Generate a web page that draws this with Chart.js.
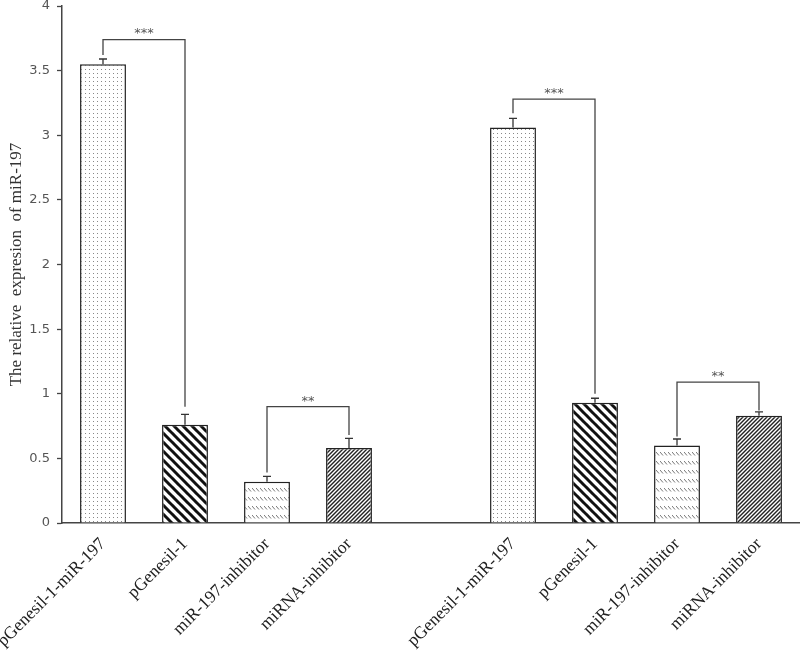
<!DOCTYPE html>
<html lang="en">
<head>
<meta charset="UTF-8">
<title>miR-197 expression</title>
<script src="https://cdn.jsdelivr.net/npm/chart.js"></script>
<style>
  html, body { margin: 0; padding: 0; background: #fff; }
  #wrap { width: 800px; height: 650px; }
</style>
</head>
<body>
<div id="wrap"><canvas id="chart"></canvas></div>
<script>
// categories (the empty one is the gap between the two groups)
const categories = ['pGenesil-1-miR-197', 'pGenesil-1', 'miR-197-inhibitor', 'miRNA-inhibitor', '',
                    'pGenesil-1-miR-197', 'pGenesil-1', 'miR-197-inhibitor', 'miRNA-inhibitor'];
const values = [3.55, 0.76, 0.32, 0.58, null, 3.06, 0.93, 0.60, 0.83];
const errors = [0.04, 0.08, 0.04, 0.075, null, 0.07, 0.035, 0.05, 0.03];
const fillKinds = ['dots', 'wide', 'waves', 'dense', null, 'dots', 'wide', 'waves', 'dense'];

// significance brackets: bar indexes, bracket level, end of each leg, text
const sigFrom = [0, 2, 5, 7];
const sigTo = [1, 3, 6, 8];
const sigTop = [3.74, 0.90, 3.28, 1.09];
const sigLeftEnd = [3.62, 0.39, 3.17, 0.67];
const sigRightEnd = [0.90, 0.68, 1.00, 0.87];
const sigLabels = ['***', '**', '***', '**'];

const yTicks = [0, 0.5, 1, 1.5, 2, 2.5, 3, 3.5, 4];

function makePattern(kind) {
    const c = document.createElement('canvas');
    const g = c.getContext('2d');
    if (kind === 'dots') {
        c.width = 4; c.height = 4;
        g.fillStyle = '#fff'; g.fillRect(0, 0, 4, 4);
        g.fillStyle = '#888'; g.fillRect(1, 1, 1, 1);
    } else if (kind === 'wide') {
        c.width = 9; c.height = 9;
        g.fillStyle = '#fff'; g.fillRect(0, 0, 9, 9);
        g.strokeStyle = '#111'; g.lineWidth = 3;
        for (let k = -9; k <= 9; k += 9) {
            g.beginPath(); g.moveTo(k - 1, -1); g.lineTo(k + 10, 10); g.stroke();
        }
    } else if (kind === 'dense') {
        c.width = 4; c.height = 4;
        g.fillStyle = '#fff'; g.fillRect(0, 0, 4, 4);
        g.strokeStyle = '#222'; g.lineWidth = 1.4;
        for (let k = -4; k <= 4; k += 4) {
            g.beginPath(); g.moveTo(k - 1, 5); g.lineTo(k + 5, -1); g.stroke();
        }
    } else if (kind === 'waves') {
        c.width = 4; c.height = 9;
        g.fillStyle = '#fff'; g.fillRect(0, 0, 4, 9);
        g.strokeStyle = '#777'; g.lineWidth = 1;
        g.beginPath(); g.moveTo(0, 2); g.lineTo(3, 5.5); g.stroke();
    }
    return g.createPattern(c, 'repeat');
}

const errorBars = {
    id: 'errorBars',
    afterDatasetsDraw(chart) {
        const ctx = chart.ctx;
        const y = chart.scales.y;
        const meta = chart.getDatasetMeta(0);
        ctx.save();
        ctx.strokeStyle = '#333';
        ctx.lineWidth = 1.3;
        meta.data.forEach((bar, i) => {
            if (values[i] == null) return;
            const top = y.getPixelForValue(values[i] + errors[i]);
            ctx.beginPath();
            ctx.moveTo(bar.x, bar.y);
            ctx.lineTo(bar.x, top);
            ctx.moveTo(bar.x - 4, top);
            ctx.lineTo(bar.x + 4, top);
            ctx.stroke();
        });
        // brackets
        ctx.strokeStyle = '#444';
        ctx.lineWidth = 1.3;
        ctx.fillStyle = '#555';
        ctx.font = '13px "DejaVu Sans"';
        ctx.textAlign = 'center';
        ctx.textBaseline = 'bottom';
        sigLabels.forEach((lab, k) => {
            const x1 = meta.data[sigFrom[k]].x;
            const x2 = meta.data[sigTo[k]].x;
            const yt = y.getPixelForValue(sigTop[k]);
            ctx.beginPath();
            ctx.moveTo(x1, y.getPixelForValue(sigLeftEnd[k]));
            ctx.lineTo(x1, yt);
            ctx.lineTo(x2, yt);
            ctx.lineTo(x2, y.getPixelForValue(sigRightEnd[k]));
            ctx.stroke();
            ctx.fillText(lab, (x1 + x2) / 2, yt + 1);
        });
        ctx.restore();
    }
};

const ctx = document.getElementById('chart').getContext('2d');
new Chart(ctx, {
    type: 'bar',
    data: {
        labels: categories,
        datasets: [{
            data: values,
            backgroundColor: fillKinds.map(k => k ? makePattern(k) : '#fff'),
            borderColor: '#222',
            borderWidth: 1.5,
            barPercentage: 0.56,
            categoryPercentage: 1.0
        }]
    },
    options: {
        responsive: true,
        maintainAspectRatio: false,
        animation: false,
        layout: { padding: { top: 6, left: 0, right: 0, bottom: 0 } },
        plugins: { legend: { display: false }, tooltip: { enabled: false } },
        scales: {
            x: {
                grid: { drawOnChartArea: false, drawTicks: false },
                border: { display: true, color: '#444', width: 1.5 },
                ticks: {
                    autoSkip: false, maxRotation: 45, minRotation: 45, padding: 11,
                    color: '#222', font: { family: '"Liberation Serif"', size: 17.5 }
                },
                afterFit(s) { s.height = 127; s.paddingLeft = 0; s.paddingRight = 0; }
            },
            y: {
                min: 0, max: 4,
                afterBuildTicks(s) { s.ticks = yTicks.map(v => ({ value: v })); },
                grid: { drawOnChartArea: false, tickLength: 5, tickColor: '#444', tickWidth: 1.3 },
                border: { display: true, color: '#444', width: 1.5 },
                ticks: {
                    padding: 7, color: '#555',
                    font: { family: '"DejaVu Sans"', size: 13 },
                    callback: v => String(v)
                },
                title: {
                    display: true, text: 'The relative  expresion  of miR-197',
                    color: '#333', font: { family: '"Liberation Serif"', size: 17 },
                    padding: { top: 6, bottom: 4 }
                },
                afterFit(s) { s.width = 62; s.paddingTop = 0; s.paddingBottom = 0; }
            }
        }
    },
    plugins: [errorBars]
});
</script>
</body>
</html>
